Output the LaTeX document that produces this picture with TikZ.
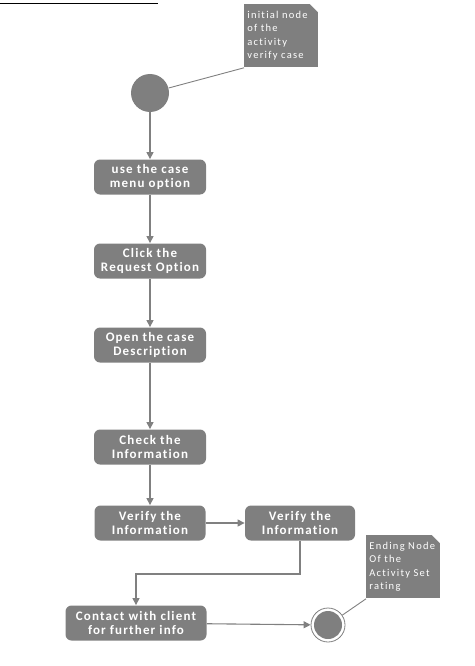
\documentclass[tikz,border=0pt]{standalone}
\usepackage{fontspec}
\setmainfont{Carlito}
\newfontfamily\actfont[LetterSpace=9,Ligatures=NoCommon]{Carlito}
\newfontfamily\notefont[LetterSpace=12,Ligatures=NoCommon]{Carlito}
\usetikzlibrary{arrows.meta}
\begin{document}
\begin{tikzpicture}[x=1pt,y=-1pt,thick,
  act/.style={rectangle,rounded corners=6pt,fill=actgray,text=white,font=\actfont\bfseries\fontsize{13}{14}\selectfont,align=center,minimum width=112pt,minimum height=35pt,inner sep=2pt},
  note/.style={rectangle,fill=actgray,text=white,font=\notefont\fontsize{10.5}{13.5}\selectfont,align=left,text width=68pt,minimum height=63pt,inner sep=3pt,anchor=north west},
  flow/.style={draw=linegray,line width=1.1pt,-{Triangle[length=7pt,width=7pt]}}]
  \definecolor{actgray}{HTML}{7F7F7F}
  \definecolor{linegray}{HTML}{808080}
  \useasboundingbox (0,0) rectangle (474,666);
  \draw[line width=0.8pt] (0,3) -- (158,3);
  \node[circle,fill=actgray,minimum size=38pt,inner sep=0pt] (start) at (150,93) {};
  \node[note] (note1) at (244,4) {initial node\\of the\\activity\\verify case};
  \node[act] (menu) at (150,177) {use the case\\menu option};
  \node[act] (request) at (150,261) {Click the\\Request Option};
  \node[act] (open) at (150,345) {Open the case\\Description};
  \node[act] (check) at (150,447) {Check the\\Information};
  \node[act,minimum width=111pt] (verify1) at (150,523) {Verify the\\Information};
  \node[act,minimum width=110pt] (verify2) at (300,523) {Verify the\\Information};
  \node[act,minimum width=141pt] (contact) at (136,623) {Contact with client\\for further info};
  \node[circle,draw=actgray,line width=0.8pt,minimum size=34pt,inner sep=0pt] (stop) at (328,625) {};
  \node[circle,fill=actgray,minimum size=28pt,inner sep=0pt] (stopin) at (328,625) {};
  \node[note] (note2) at (366,535) {Ending Node\\Of the\\Activity Set\\rating};
  \fill[white] (note1.north east) -- ++(-9,0) -- ++(9,9) -- cycle;
  \fill[white] (note2.north east) -- ++(-9,0) -- ++(9,9) -- cycle;
  \coordinate (bend) at (136,574);
  \draw[draw=linegray,line width=0.9pt] (note1.south west) -- (start);
  \draw[draw=linegray,line width=0.9pt] (note2.south west) -- (stop);
  \draw[flow] (start)--(menu);
  \draw[flow] (menu)--(request);
  \draw[flow] (request)--(open);
  \draw[flow] (open)--(check);
  \draw[flow] (check)--(verify1);
  \draw[flow] (verify1)--(verify2);
  \draw[flow] (verify2.south) |- (bend) -- (contact.north);
  \draw[flow] (contact)--(stop);
\end{tikzpicture}
\end{document}
